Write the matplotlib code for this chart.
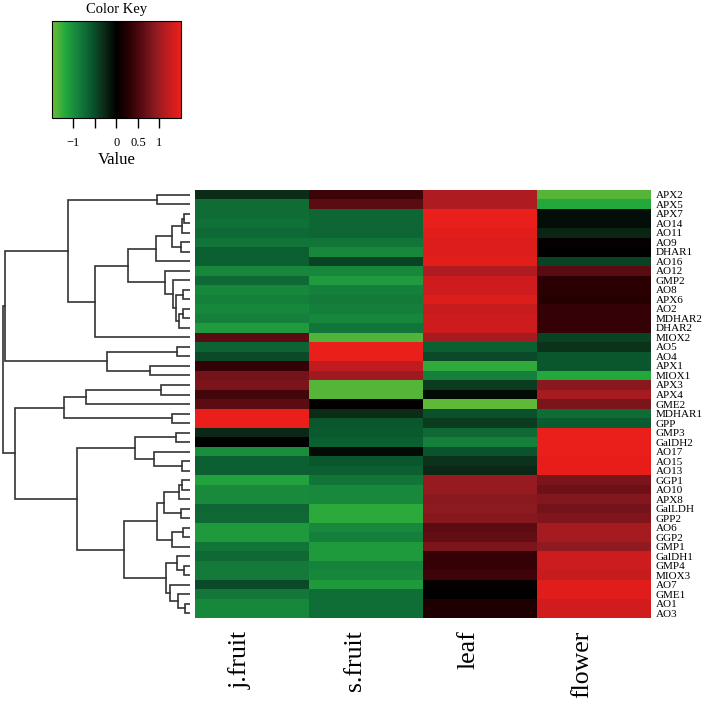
import numpy as np
import matplotlib
matplotlib.use("Agg")
import matplotlib.pyplot as plt
from matplotlib.colors import LinearSegmentedColormap, Normalize

plt.rcParams['font.family'] = ['Liberation Serif', 'DejaVu Serif']

# row order (top to bottom) and columns
genes = ["APX2", "APX5", "APX7", "AO14", "AO11", "AO9", "DHAR1", "AO16", "AO12",
         "GMP2", "AO8", "APX6", "AO2", "MDHAR2", "DHAR2", "MIOX2", "AO5", "AO4",
         "APX1", "MIOX1", "APX3", "APX4", "GME2", "MDHAR1", "GPP", "GMP3", "GalDH2",
         "AO17", "AO15", "AO13", "GGP1", "AO10", "APX8", "GalLDH", "GPP2", "AO6",
         "GGP2", "GMP1", "GalDH1", "GMP4", "MIOX3", "AO7", "GME1", "AO1", "AO3"]
tissues = ["j.fruit", "s.fruit", "leaf", "flower"]

# scaled expression, one list per tissue (same order as genes)
j_fruit = [-0.30, -0.75, -0.75, -0.78, -0.72, -0.80, -0.65, -0.65, -0.95,
           -0.72, -0.95, -0.90, -0.95, -0.90, -1.10, 0.60, -0.67, -0.50,
           0.35, 0.75, 0.80, 0.45, 0.60, 1.50, 1.50, -0.28, -0.02,
           -1.00, -0.64, -0.64, -1.15, -0.98, -0.98, -0.70, -0.72, -1.08,
           -1.08, -0.82, -0.72, -0.85, -0.85, -0.50, -0.83, -0.95, -0.95]
s_fruit = [0.40, 0.60, -0.70, -0.70, -0.70, -0.82, -0.95, -0.45, -0.95,
           -1.10, -0.90, -0.85, -0.88, -0.95, -0.80, -1.38, 1.50, 1.50,
           1.20, 1.00, -1.40, -1.40, 0.02, -0.30, -0.58, -0.60, -0.65,
           -0.08, -0.58, -0.64, -0.82, -0.97, -0.97, -1.22, -1.22, -0.97,
           -0.90, -1.08, -1.08, -0.92, -0.95, -1.08, -0.76, -0.76, -0.76]
leaf = [1.10, 1.10, 1.50, 1.50, 1.45, 1.40, 1.40, 1.45, 1.10,
        1.30, 1.30, 1.40, 1.25, 1.30, 1.30, 1.05, -0.65, -0.50,
        -1.25, -0.90, -0.40, -0.08, -1.45, -0.55, -0.40, -0.72, -0.90,
        -0.56, -0.35, -0.28, 0.95, 0.95, 0.88, 0.90, 0.86, 0.60,
        0.65, 0.80, 0.35, 0.35, 0.42, 0.05, 0.00, 0.20, 0.20]
flower = [-1.40, -1.20, -0.10, -0.10, -0.25, 0.05, 0.00, -0.45, 0.60,
          0.30, 0.30, 0.25, 0.35, 0.35, 0.35, -0.45, -0.35, -0.58,
          -0.58, -1.20, 0.88, 1.05, 0.80, -0.75, -0.62, 1.50, 1.50,
          1.50, 1.48, 1.48, 0.80, 0.72, 0.85, 0.75, 0.83, 1.05,
          1.05, 0.92, 1.28, 1.28, 1.25, 1.42, 1.42, 1.32, 1.32]

# row dendrogram: (name, left, right, height)
merges = [
    ("c1", "APX2", "APX5", 32.7), ("c2", "APX7", "AO14", 5.7),
    ("c3", "c2", "AO11", 8.3), ("c4", "AO9", "DHAR1", 9.3),
    ("c5", "c3", "c4", 18.3), ("c6", "c5", "AO16", 34.0),
    ("c7", "AO8", "APX6", 6.7), ("c8", "AO2", "MDHAR2", 7.3),
    ("c9", "c8", "DHAR2", 11.0), ("c10", "c7", "c9", 14.0),
    ("c11", "GMP2", "c10", 16.7), ("c12", "AO12", "c11", 25.0),
    ("c13", "c6", "c12", 62.0), ("c14", "c13", "MIOX2", 95.0),
    ("c15", "c1", "c14", 122.0), ("c16", "AO5", "AO4", 13.3),
    ("c17", "APX1", "MIOX1", 40.0), ("c18", "c16", "c17", 83.0),
    ("c19", "c15", "c18", 185.0), ("c20", "APX3", "APX4", 29.0),
    ("c21", "c20", "GME2", 104.0), ("c22", "MDHAR1", "GPP", 17.7),
    ("c23", "c21", "c22", 126.0), ("c24", "GMP3", "GalDH2", 14.3),
    ("c25", "AO15", "AO13", 7.7), ("c26", "AO17", "c25", 35.7),
    ("c27", "c24", "c26", 55.3), ("c28", "GGP1", "AO10", 8.3),
    ("c29", "c28", "APX8", 10.7), ("c30", "GalLDH", "GPP2", 9.3),
    ("c31", "c29", "c30", 25.7), ("c32", "AO6", "GGP2", 7.3),
    ("c33", "c32", "GMP1", 17.7), ("c34", "c31", "c33", 33.0),
    ("c35", "GMP4", "MIOX3", 5.7), ("c36", "GalDH1", "c35", 13.3),
    ("c37", "AO1", "AO3", 5.0), ("c38", "GME1", "c37", 12.0),
    ("c39", "AO7", "c38", 20.0), ("c40", "c36", "c39", 24.0),
    ("c41", "c34", "c40", 66.3), ("c42", "c27", "c41", 113.0),
    ("c43", "c23", "c42", 175.0), ("c44", "c19", "c43", 187.0),
]

key_colors = ["#6cbc38", "#24a83c", "#15803c", "#0a5a30", "#0c2c18", "#000000",
              "#2c0004", "#5a0c12", "#8c1a20", "#c01c20", "#ea1e1a"]
cmap = LinearSegmentedColormap.from_list("gbr", key_colors, N=256)
norm = Normalize(vmin=-1.5, vmax=1.5)

data = np.column_stack([j_fruit, s_fruit, leaf, flower])

fig = plt.figure(figsize=(7.13, 7.03), dpi=100)

# heatmap
ax = fig.add_axes([0.2735, 0.1209, 0.6382, 0.6088])
im = ax.imshow(data, cmap=cmap, norm=norm, aspect='auto', interpolation='nearest')
ax.yaxis.tick_right()
ax.set_yticks(range(len(genes)))
ax.set_yticklabels(genes, fontsize=8)
ax.set_xticks(range(len(tissues)))
ax.set_xticklabels(tissues, fontsize=18.5, rotation=90, ha='right', va='top')
ax.tick_params(length=0, pad=4)
ax.tick_params(axis='x', pad=9)
for s in ax.spines.values():
    s.set_visible(False)

# dendrogram
dax = fig.add_axes([0.0, 0.1209, 0.2665, 0.6088])
pos = {g: (float(i), 0.0) for i, g in enumerate(genes)}
for name, a, b, h in merges:
    ya, ha_ = pos[a]
    yb, hb = pos[b]
    dax.plot([ha_, h, h, hb], [ya, ya, yb, yb], color='#333333', lw=1.2,
             solid_joinstyle='miter')
    pos[name] = ((ya + yb) / 2, h)
dax.set_xlim(190, 0)
dax.set_ylim(len(genes) - 0.5, -0.5)
dax.axis('off')

# colour key
kax = fig.add_axes([0.0729, 0.8321, 0.1809, 0.1380])
cb = fig.colorbar(im, cax=kax, orientation='horizontal', ticks=[-1, -0.5, 0, 0.5, 1])
cb.ax.set_xticklabels(['\u22121', '', '0', '0.5', '1'], fontsize=9)
cb.ax.tick_params(length=7, width=1, pad=7)
cb.set_label('Value', fontsize=12, labelpad=2)
kax.set_title('Color Key', fontsize=10.5, pad=6)
cb.outline.set_linewidth(0.8)

fig.savefig('out.png', dpi=100)
